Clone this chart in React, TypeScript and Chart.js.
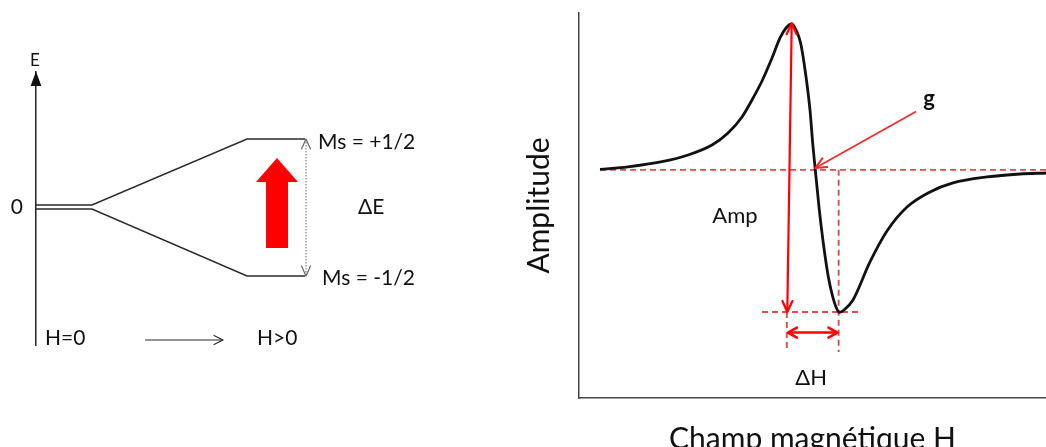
import React, { useEffect, useRef } from 'react';
import { Chart, registerables } from 'chart.js';

Chart.register(...registerables);

// ---------- Left panel: Zeeman splitting of the energy levels ----------
const levelH = [0, 5.6, 21.1, 26.9];
const upperE = [0.2, 0.2, 6.8, 6.8];
const lowerE = [-0.2, -0.2, -6.9, -6.9];
const deltaEH = [27.0, 27.0];
const deltaEE = [6.8, -6.9];
const fieldArrowH = [10.9, 18.7];
const fieldArrowE = [-13.3, -13.3];
const transitionH = [23.0, 25.2, 25.2, 26.2, 24.1, 22.0, 23.0, 23.0];
const transitionE = [-4.1, -4.1, 2.5, 2.5, 4.9, 2.5, 2.5, -4.1];
const energyTickValues = [0];
const energyTickLabels = ['0'];
const energyLabelTexts = ['E', 'Ms = +1/2', 'ΔE', 'Ms = -1/2', 'H=0', 'H>0'];
const energyLabelH = [-0.1, 28.2, 32.2, 28.6, 0.9, 22.1];
const energyLabelE = [14.6, 6.5, 0, -7.1, -13.1, -13.1];

// ---------- Right panel: EPR first-derivative spectrum ----------
const fieldH = [
  4.5, 10.49, 17.77, 23.34, 28.48, 31.91, 34.9, 37.04, 39.19, 41.33, 43.04, 44.33,
  45.55, 46.68, 47.47, 48.61, 49.46, 50.04, 50.54, 51.46, 52.31, 53.38, 54.33, 55.03,
  55.78, 56.75, 58.67, 62.31, 65.95, 70.24, 75.16, 80.09, 87.37, 94.43, 100,
];
const amplitude = [
  0.4, 2.1, 5.7, 10.4, 17.4, 25.8, 37.1, 49.0, 62.3, 78.4, 92.5, 99.5,
  102.3, 96.7, 88.8, 65.3, 42.0, 18.8, 2.0, -28.2, -51.3, -74.9, -89.0, -96.2,
  -100.0, -98.3, -91.3, -64.6, -42.9, -26.1, -15.5, -9.2, -5.0, -2.9, -2.2,
];
const baselineH = [4.5, 100];
const baselineA = [0, 0];
const troughLineH = [39.2, 60.0];
const troughLineA = [-99.7, -99.7];
const troughDropH = [55.6, 55.6];
const troughDropA = [0, -127.7];
const peakDropH = [44.5, 44.5];
const peakDropA = [-99.7, -127.7];
const ampArrowH = [45.55, 44.6];
const ampArrowA = [102.8, -99.7];
const widthArrowH = [44.75, 55.35];
const widthArrowA = [-114.1, -114.1];
const gArrowH = [72.2, 50.6];
const gArrowA = [40.9, 1.3];
const spectrumLabelTexts = ['Amp', 'ΔH', 'g'];
const spectrumLabelH = [33.4, 49.7, 74.95];
const spectrumLabelA = [-32.0, -145.6, 50.0];

const FONT = 'Lato';

const pts = (xs: number[], ys: number[]) => xs.map((x, i) => ({ x, y: ys[i] }));

const diagramPlugin = {
  id: 'diagram',
  afterDatasetsDraw(chart: any, _args: any, opts: any) {
    const { ctx, chartArea } = chart;
    const xs = chart.scales.x;
    const ys = chart.scales.y;
    ctx.save();
    chart.data.datasets.forEach((ds: any, i: number) => {
      const a = ds.arrow;
      if (!a) return;
      const p = chart.getDatasetMeta(i).data;
      if (p.length < 2) return;
      const head = (tip: any, from: any) => {
        const ang = Math.atan2(tip.y - from.y, tip.x - from.x);
        const bx = tip.x - a.len * Math.cos(ang);
        const by = tip.y - a.len * Math.sin(ang);
        const nx = -Math.sin(ang) * a.half;
        const ny = Math.cos(ang) * a.half;
        ctx.beginPath();
        ctx.setLineDash([]);
        ctx.moveTo(bx + nx, by + ny);
        ctx.lineTo(tip.x, tip.y);
        ctx.lineTo(bx - nx, by - ny);
        ctx.strokeStyle = a.color || ds.borderColor;
        ctx.lineWidth = a.width;
        ctx.lineCap = 'round';
        ctx.lineJoin = 'round';
        ctx.stroke();
      };
      if (a.start) head(p[0], p[1]);
      if (a.end) head(p[p.length - 1], p[p.length - 2]);
    });
    if (opts.axisArrow) {
      const x = chartArea.left;
      const y = chartArea.top;
      ctx.beginPath();
      ctx.moveTo(x, y - 0.5);
      ctx.lineTo(x + 5.4, y + 14);
      ctx.lineTo(x - 5.4, y + 14);
      ctx.closePath();
      ctx.fillStyle = '#111';
      ctx.fill();
    }
    (opts.labels || []).forEach((l: any) => {
      ctx.font = `${l.weight || 'normal'} ${l.size}px ${FONT}`;
      ctx.fillStyle = l.color || '#111';
      ctx.textAlign = l.align || 'left';
      ctx.textBaseline = 'middle';
      ctx.fillText(l.text, xs.getPixelForValue(l.x), ys.getPixelForValue(l.y));
    });
    ctx.restore();
  },
};

const lineDs = (data: any, color: string, width: number, extra: any = {}) => ({
  data,
  borderColor: color,
  borderWidth: width,
  pointRadius: 0,
  pointHoverRadius: 0,
  fill: false,
  tension: 0,
  ...extra,
});

export default function App() {
  const leftRef = useRef<HTMLCanvasElement>(null);
  const rightRef = useRef<HTMLCanvasElement>(null);

  useEffect(() => {
    const energyLabelSizes = [17, 21, 21, 21, 21, 21];
    const leftChart = new Chart(leftRef.current as HTMLCanvasElement, {
      type: 'line',
      data: {
        datasets: [
          lineDs(pts(transitionH, transitionE), 'rgba(0,0,0,0)', 0, {
            fill: 'shape',
            backgroundColor: '#ff0000',
          }),
          lineDs(pts(levelH, upperE), '#2a2a2a', 1.4),
          lineDs(pts(levelH, lowerE), '#2a2a2a', 1.4),
          lineDs(pts(deltaEH, deltaEE), '#777', 1.1, {
            borderDash: [1.5, 1.5],
            arrow: { start: true, end: true, len: 10, half: 4.5, width: 1.2, color: '#666' },
          }),
          lineDs(pts(fieldArrowH, fieldArrowE), '#2a2a2a', 1.2, {
            arrow: { end: true, len: 9, half: 4.5, width: 1.2 },
          }),
        ],
      } as any,
      options: {
        responsive: false,
        animation: false,
        events: [],
        layout: { padding: { top: 72, right: 64, bottom: 102, left: 0 }, autoPadding: false },
        scales: {
          x: { type: 'linear', min: 0, max: 40, display: false },
          y: {
            type: 'linear',
            min: -13.8,
            max: 13.5,
            grid: { display: false, drawTicks: false },
            border: { display: true, color: '#222', width: 1.5 },
            afterBuildTicks: (axis: any) => {
              axis.ticks = energyTickValues.map((v) => ({ value: v }));
            },
            afterFit: (axis: any) => {
              axis.width = 36;
            },
            ticks: {
              padding: 13,
              color: '#111',
              font: { family: FONT, size: 21 },
              callback: (v: any) => {
                const k = energyTickValues.indexOf(Number(v));
                return k >= 0 ? energyTickLabels[k] : '';
              },
            },
          },
        },
        plugins: {
          legend: { display: false },
          tooltip: { enabled: false },
          diagram: {
            axisArrow: true,
            labels: energyLabelTexts.map((t, i) => ({
              text: t,
              x: energyLabelH[i],
              y: energyLabelE[i],
              size: energyLabelSizes[i],
              align: i === 0 ? 'center' : 'left',
            })),
          },
        } as any,
      },
      plugins: [diagramPlugin],
    });

    const spectrumLabelStyles = [
      { size: 22, weight: 'normal' },
      { size: 22, weight: 'normal' },
      { size: 22, weight: 'bold' },
    ];
    const dashed = { borderDash: [6, 4] };
    const dashColor = 'rgba(218,58,58,0.9)';
    const rightChart = new Chart(rightRef.current as HTMLCanvasElement, {
      type: 'line',
      data: {
        datasets: [
          lineDs(pts(ampArrowH, ampArrowA), '#ff0000', 2.2, {
            arrow: { start: true, end: true, len: 11, half: 5, width: 2.2 },
          }),
          lineDs(pts(widthArrowH, widthArrowA), '#ff0000', 2.5, {
            arrow: { start: true, end: true, len: 9, half: 5, width: 2.5 },
          }),
          lineDs(pts(gArrowH, gArrowA), '#f02a2a', 1.7, {
            arrow: { end: true, len: 11, half: 5, width: 2.1 },
          }),
          lineDs(pts(fieldH, amplitude), '#111', 2.8, { cubicInterpolationMode: 'monotone' }),
          lineDs(pts(baselineH, baselineA), dashColor, 1.9, dashed),
          lineDs(pts(troughLineH, troughLineA), dashColor, 1.9, dashed),
          lineDs(pts(troughDropH, troughDropA), dashColor, 1.9, dashed),
          lineDs(pts(peakDropH, peakDropA), dashColor, 1.9, dashed),
        ],
      } as any,
      options: {
        responsive: false,
        animation: false,
        events: [],
        layout: { padding: { top: 13, right: 0, bottom: 0, left: 0 }, autoPadding: false },
        scales: {
          x: {
            type: 'linear',
            min: 0,
            max: 100,
            grid: { display: false, drawTicks: false },
            ticks: { display: false },
            border: { display: true, color: '#444', width: 1.5 },
            afterFit: (axis: any) => {
              axis.height = 72;
            },
            title: {
              display: true,
              text: 'Champ magnétique H',
              color: '#111',
              font: { family: FONT, size: 30 },
              padding: { top: 0, bottom: 13 },
            },
          },
          y: {
            type: 'linear',
            min: -160,
            max: 110,
            grid: { display: false, drawTicks: false },
            ticks: { display: false },
            border: { display: true, color: '#444', width: 1.5 },
            afterFit: (axis: any) => {
              axis.width = 79;
            },
            title: {
              display: true,
              text: 'Amplitude',
              color: '#111',
              font: { family: FONT, size: 30 },
              padding: { top: 21.5, bottom: 0 },
            },
          },
        },
        plugins: {
          legend: { display: false },
          tooltip: { enabled: false },
          diagram: {
            labels: spectrumLabelTexts.map((t, i) => ({
              text: t,
              x: spectrumLabelH[i],
              y: spectrumLabelA[i],
              size: spectrumLabelStyles[i].size,
              weight: spectrumLabelStyles[i].weight,
              align: 'center',
              color: '#111',
            })),
          },
        } as any,
      },
      plugins: [diagramPlugin],
    });

    return () => {
      leftChart.destroy();
      rightChart.destroy();
    };
  }, []);

  return (
    <div
      style={{
        position: 'fixed',
        left: 0,
        top: 0,
        width: 1046,
        height: 447,
        overflow: 'hidden',
        background: '#fff',
      }}
    >
      <canvas ref={leftRef} width={500} height={447} style={{ position: 'absolute', left: 0, top: 0 }} />
      <canvas ref={rightRef} width={546} height={470} style={{ position: 'absolute', left: 500, top: 0 }} />
    </div>
  );
}
